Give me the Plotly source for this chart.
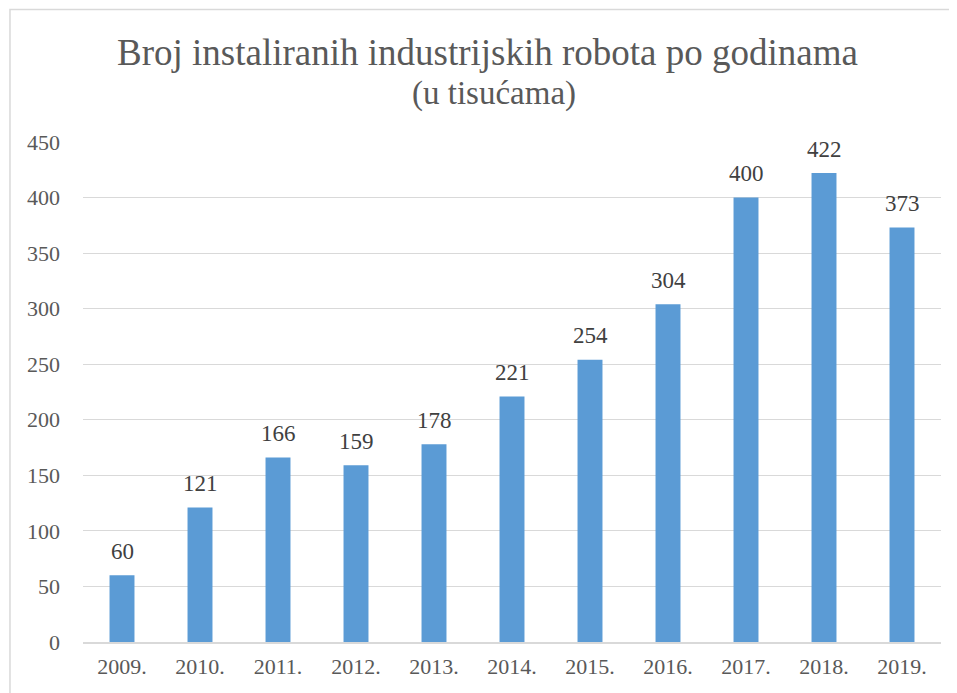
import plotly.graph_objects as go

# godine i broj instaliranih robota (u tisućama)
godine = ['2009.', '2010.', '2011.', '2012.', '2013.', '2014.',
          '2015.', '2016.', '2017.', '2018.', '2019.']
roboti = [60, 121, 166, 159, 178, 221, 254, 304, 400, 422, 373]

naslov = 'Broj instaliranih industrijskih robota po godinama'
podnaslov = '(u tisućama)'

font_serif = 'Liberation Serif'

fig = go.Figure()
fig.add_trace(go.Bar(
    x=godine,
    y=roboti,
    marker=dict(color='#5B9BD5', line=dict(width=0)),
    hoverinfo='x+y',
))

# oznake vrijednosti iznad stupaca
# ('2009.' izgleda kao broj, pa se na kategorijskoj osi koristi indeks)
for i, v in enumerate(roboti):
    fig.add_annotation(x=i, y=v, text=str(v), showarrow=False,
                       yanchor='middle', yshift=24,
                       font=dict(family=font_serif, size=23, color='#404040'))

# stranica ima 8px margine, pa je sve pomaknuto za 8px
fig.update_layout(
    width=957, height=693,
    margin=dict(l=75, r=24, t=134, b=59),
    paper_bgcolor='white', plot_bgcolor='white',
    bargap=0.68,
    showlegend=False,
    font=dict(family=font_serif, color='#595959'),
)

fig.update_xaxes(
    type='category', range=[-0.5, len(godine) - 0.5],
    showgrid=False, showline=True, linecolor='#D9D9D9', linewidth=1.5,
    ticks='', tickfont=dict(family=font_serif, size=22, color='#595959'),
    ticklabelstandoff=4,
)
fig.update_yaxes(
    range=[0, 450], dtick=50, showgrid=True, gridcolor='#D9D9D9', gridwidth=1,
    zeroline=False, showline=False, ticks='',
    tickfont=dict(family=font_serif, size=22, color='#595959'),
    ticklabelstandoff=22,
)

# naslov i podnaslov
fig.add_annotation(text=naslov, xref='paper', yref='paper', x=0.472, y=1.18,
                   showarrow=False, xanchor='center', yanchor='middle',
                   font=dict(family=font_serif, size=37, color='#595959'))
fig.add_annotation(text=podnaslov, xref='paper', yref='paper', x=0.479, y=1.097,
                   showarrow=False, xanchor='center', yanchor='middle',
                   font=dict(family=font_serif, size=33, color='#595959'))

# okvir grafikona
fig.add_shape(type='rect', xref='paper', yref='paper',
              x0=-0.0851, x1=1.2, y0=-0.3, y1=1.265,
              line=dict(color='#D9D9D9', width=1.5), layer='below')

fig.write_html('out.html')
